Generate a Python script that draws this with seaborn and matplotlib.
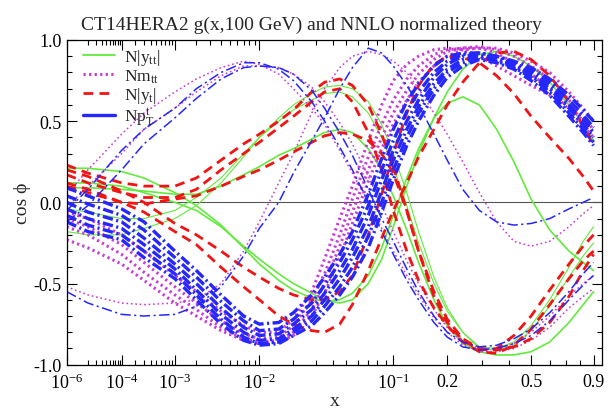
import numpy as np
import matplotlib
matplotlib.use("Agg")
import matplotlib.pyplot as plt
import seaborn as sns

# x grid shared by all correlation curves
x_grid = [1e-6, 1e-5, 1e-4, 3e-4, 1e-3, 2e-3, 4e-3, 7e-3, 1e-2, 0.015, 0.02,
          0.028, 0.035, 0.045, 0.055, 0.07, 0.085, 0.1, 0.12, 0.14, 0.17,
          0.2, 0.24, 0.29, 0.35, 0.42, 0.5, 0.6, 0.72, 0.82, 0.9]

# N|y_tt| bins (green, solid)
green_thick = [
    [0.21, 0.21, 0.19, 0.15, 0.06, -0.02, -0.14, -0.28, -0.38, -0.48, -0.54, -0.59, -0.61, -0.6, -0.56, -0.45, -0.28, -0.08, 0.15, 0.33, 0.52, 0.61, 0.65, 0.6, 0.45, 0.25, 0.02, -0.17, -0.3, -0.37, -0.42],
    [0.12, 0.12, 0.1, 0.06, 0.0, -0.05, -0.15, -0.27, -0.35, -0.44, -0.5, -0.56, -0.6, -0.62, -0.6, -0.5, -0.35, -0.15, 0.1, 0.3, 0.52, 0.68, 0.82, 0.91, 0.93, 0.9, 0.84, 0.74, 0.6, 0.48, 0.38],
    [0.09, 0.09, 0.08, 0.07, 0.05, 0.05, 0.1, 0.17, 0.22, 0.29, 0.33, 0.39, 0.43, 0.45, 0.43, 0.33, 0.2, 0.04, -0.17, -0.37, -0.6, -0.76, -0.87, -0.92, -0.94, -0.94, -0.92, -0.86, -0.74, -0.63, -0.55],
]
green_thin = [
    [-0.04, -0.06, -0.1, -0.1, -0.05, 0.03, 0.15, 0.3, 0.4, 0.5, 0.57, 0.63, 0.67, 0.68, 0.65, 0.55, 0.4, 0.22, -0.02, -0.25, -0.5, -0.67, -0.8, -0.89, -0.9, -0.86, -0.76, -0.6, -0.4, -0.24, -0.15],
    [-0.18, -0.2, -0.2, -0.16, -0.1, -0.02, 0.12, 0.28, 0.4, 0.52, 0.6, 0.67, 0.71, 0.72, 0.7, 0.62, 0.48, 0.3, 0.06, -0.18, -0.46, -0.65, -0.8, -0.9, -0.91, -0.88, -0.79, -0.64, -0.46, -0.33, -0.25],
]

# Nm_tt bins (magenta, dotted)
mag_thick = [
    [-0.06, -0.1, -0.2, -0.3, -0.45, -0.55, -0.67, -0.76, -0.8, -0.8, -0.72, -0.55, -0.35, -0.1, 0.1, 0.38, 0.6, 0.75, 0.85, 0.9, 0.94, 0.95, 0.94, 0.9, 0.84, 0.78, 0.72, 0.66, 0.6, 0.5, 0.42],
    [-0.1, -0.15, -0.26, -0.37, -0.52, -0.62, -0.73, -0.81, -0.84, -0.83, -0.76, -0.6, -0.44, -0.2, 0.02, 0.28, 0.48, 0.63, 0.76, 0.84, 0.91, 0.94, 0.95, 0.95, 0.92, 0.86, 0.79, 0.7, 0.57, 0.47, 0.4],
    [-0.15, -0.2, -0.32, -0.43, -0.57, -0.66, -0.77, -0.84, -0.86, -0.85, -0.8, -0.66, -0.5, -0.27, -0.06, 0.2, 0.4, 0.55, 0.69, 0.79, 0.88, 0.93, 0.95, 0.96, 0.94, 0.9, 0.84, 0.76, 0.63, 0.52, 0.45],
    [-0.23, -0.28, -0.38, -0.48, -0.62, -0.7, -0.79, -0.85, -0.87, -0.86, -0.82, -0.7, -0.56, -0.34, -0.13, 0.13, 0.33, 0.48, 0.63, 0.74, 0.84, 0.9, 0.94, 0.95, 0.95, 0.92, 0.87, 0.8, 0.68, 0.58, 0.5],
]
mag_thin = [
    [0.05, 0.2, 0.42, 0.55, 0.68, 0.76, 0.83, 0.87, 0.85, 0.79, 0.7, 0.58, 0.48, 0.32, 0.18, 0.0, -0.16, -0.3, -0.45, -0.57, -0.71, -0.8, -0.88, -0.92, -0.92, -0.9, -0.85, -0.77, -0.65, -0.58, -0.53],
    [-0.03, 0.1, 0.3, 0.45, 0.58, 0.68, 0.78, 0.84, 0.84, 0.83, 0.79, 0.71, 0.62, 0.49, 0.36, 0.16, -0.02, -0.18, -0.36, -0.5, -0.66, -0.77, -0.86, -0.9, -0.9, -0.87, -0.8, -0.7, -0.58, -0.5, -0.45],
    [-0.52, -0.57, -0.62, -0.63, -0.62, -0.6, -0.5, -0.3, -0.12, 0.12, 0.3, 0.55, 0.7, 0.83, 0.9, 0.93, 0.91, 0.87, 0.8, 0.7, 0.55, 0.42, 0.25, 0.06, -0.12, -0.24, -0.27, -0.24, -0.15, -0.07, -0.02],
]

# N|y_t| bins (red, dashed)
red_bins = [
    [0.23, 0.18, 0.12, 0.1, 0.1, 0.15, 0.26, 0.36, 0.42, 0.5, 0.57, 0.68, 0.74, 0.76, 0.72, 0.6, 0.42, 0.22, -0.05, -0.3, -0.58, -0.74, -0.85, -0.91, -0.9, -0.82, -0.7, -0.54, -0.38, -0.27, -0.2],
    [0.17, 0.12, 0.06, 0.03, 0.03, 0.08, 0.2, 0.3, 0.37, 0.46, 0.53, 0.62, 0.68, 0.7, 0.62, 0.43, 0.2, -0.05, -0.3, -0.48, -0.65, -0.76, -0.86, -0.92, -0.93, -0.88, -0.78, -0.63, -0.47, -0.36, -0.3],
    [0.1, 0.06, 0.0, -0.01, 0.02, 0.04, 0.1, 0.16, 0.2, 0.26, 0.31, 0.37, 0.41, 0.43, 0.42, 0.38, 0.3, 0.18, -0.05, -0.3, -0.55, -0.72, -0.84, -0.9, -0.91, -0.89, -0.84, -0.74, -0.58, -0.42, -0.32],
    [0.2, 0.16, 0.07, 0.0, -0.13, -0.2, -0.3, -0.4, -0.46, -0.53, -0.57, -0.6, -0.6, -0.55, -0.45, -0.2, 0.05, 0.3, 0.55, 0.72, 0.85, 0.9, 0.89, 0.86, 0.78, 0.67, 0.53, 0.4, 0.27, 0.16, 0.07],
    [0.12, 0.08, 0.0, -0.06, -0.18, -0.26, -0.4, -0.52, -0.6, -0.7, -0.75, -0.79, -0.8, -0.75, -0.63, -0.42, -0.22, -0.05, 0.12, 0.28, 0.45, 0.6, 0.74, 0.86, 0.92, 0.93, 0.88, 0.78, 0.62, 0.47, 0.35],
]

# Np_T^t bins (blue, dash-dot)
blue_thick = [
    [0.09, 0.04, -0.04, -0.12, -0.3, -0.42, -0.57, -0.7, -0.75, -0.74, -0.68, -0.57, -0.46, -0.32, -0.18, 0.05, 0.27, 0.45, 0.62, 0.73, 0.84, 0.9, 0.92, 0.92, 0.9, 0.87, 0.83, 0.76, 0.66, 0.57, 0.5],
    [0.04, -0.01, -0.08, -0.17, -0.34, -0.46, -0.61, -0.73, -0.79, -0.78, -0.72, -0.62, -0.51, -0.37, -0.23, -0.02, 0.2, 0.38, 0.56, 0.68, 0.8, 0.87, 0.91, 0.92, 0.9, 0.86, 0.81, 0.74, 0.63, 0.54, 0.46],
    [0.0, -0.06, -0.12, -0.22, -0.38, -0.5, -0.65, -0.77, -0.82, -0.81, -0.75, -0.66, -0.56, -0.42, -0.29, -0.08, 0.14, 0.32, 0.5, 0.63, 0.77, 0.85, 0.9, 0.91, 0.89, 0.85, 0.79, 0.72, 0.6, 0.51, 0.43],
    [-0.04, -0.1, -0.16, -0.26, -0.41, -0.54, -0.69, -0.8, -0.85, -0.84, -0.78, -0.7, -0.6, -0.47, -0.34, -0.15, 0.07, 0.26, 0.45, 0.59, 0.73, 0.82, 0.88, 0.9, 0.88, 0.84, 0.78, 0.7, 0.58, 0.48, 0.4],
    [-0.08, -0.14, -0.2, -0.3, -0.44, -0.57, -0.72, -0.83, -0.87, -0.86, -0.8, -0.73, -0.64, -0.52, -0.4, -0.21, 0.0, 0.2, 0.4, 0.55, 0.7, 0.8, 0.86, 0.89, 0.87, 0.83, 0.77, 0.68, 0.55, 0.45, 0.37],
    [-0.12, -0.18, -0.23, -0.34, -0.47, -0.6, -0.75, -0.85, -0.88, -0.87, -0.82, -0.76, -0.68, -0.57, -0.46, -0.28, -0.06, 0.14, 0.35, 0.5, 0.66, 0.77, 0.84, 0.88, 0.86, 0.82, 0.75, 0.66, 0.53, 0.43, 0.35],
]
blue_thin = [
    [-0.05, 0.08, 0.32, 0.45, 0.58, 0.7, 0.8, 0.86, 0.86, 0.82, 0.75, 0.62, 0.5, 0.34, 0.2, 0.0, -0.18, -0.32, -0.48, -0.6, -0.74, -0.83, -0.89, -0.91, -0.9, -0.87, -0.82, -0.73, -0.6, -0.51, -0.45],
    [-0.12, -0.02, 0.2, 0.36, 0.52, 0.64, 0.76, 0.83, 0.84, 0.83, 0.79, 0.69, 0.58, 0.43, 0.29, 0.08, -0.1, -0.24, -0.41, -0.55, -0.7, -0.8, -0.86, -0.89, -0.88, -0.84, -0.78, -0.68, -0.55, -0.44, -0.37],
    [-0.55, -0.62, -0.69, -0.7, -0.69, -0.64, -0.52, -0.33, -0.16, 0.0, 0.18, 0.38, 0.52, 0.7, 0.83, 0.95, 0.92, 0.84, 0.72, 0.6, 0.42, 0.26, 0.08, -0.05, -0.12, -0.14, -0.13, -0.1, -0.04, 0.0, 0.03],
]

legend_labels = [r"N|y$_{\rm tt}$|", r"Nm$_{\rm tt}$", r"N|y$_{\rm t}$|", r"Np$_{\rm T}^{\rm t}$"]
title = "CT14HERA2 g(x,100 GeV) and NNLO normalized theory"

x_major = [1e-6, 1e-4, 1e-3, 1e-2, 1e-1, 0.2, 0.5, 0.9]
x_major_labels = [r"$10^{-6}$", r"$10^{-4}$", r"$10^{-3}$", r"$10^{-2}$", r"$10^{-1}$", "0.2", "0.5", "0.9"]

sns.set_theme(style="ticks")
plt.rcParams["font.family"] = ["Liberation Serif", "DejaVu Serif"]
plt.rcParams["mathtext.fontset"] = "custom"
plt.rcParams["mathtext.rm"] = "Liberation Serif"
plt.rcParams["mathtext.it"] = "Liberation Serif:italic"
plt.rcParams["lines.scale_dashes"] = False

GREEN = "#62ea3c"
MAGENTA = "#c93bd6"
RED = "#f21414"
BLUE = "#2626ff"

fig = plt.figure(figsize=(6.08, 4.10), dpi=100)
ax = fig.add_axes([0.1097, 0.108, 0.8805, 0.792])

# x axis uses a x^(1/5) mapping
ax.set_xscale("function", functions=(lambda v: np.power(np.clip(v, 0, None), 0.2),
                                     lambda v: np.power(np.clip(v, 0, None), 5.0)))

def draw(values, color, ls, lw):
    sns.lineplot(x=x_grid, y=values, ax=ax, color=color, linestyle=ls, lw=lw,
                 sort=False, estimator=None)

ax.axhline(0.0, color="#555555", lw=0.8, zorder=1)

for g in green_thick:
    draw(g, GREEN, "-", 1.2)
for g in green_thin:
    draw(g, GREEN, "-", 0.8)

dot = (0, (1.6, 2.4))
for m in mag_thick:
    draw(m, MAGENTA, dot, 2.2)
for m in mag_thin:
    draw(m, MAGENTA, (0, (1.2, 2.0)), 1.1)

dash = (0, (7.0, 4.5))
for r in red_bins:
    draw(r, RED, dash, 2.0)

dashdot = (0, (7.5, 2.5, 1.5, 2.5))
for b in blue_thick:
    draw(b, BLUE, dashdot, 2.4)
for b in blue_thin:
    draw(b, BLUE, dashdot, 1.1)

ax.set_xlim(1e-6, 0.97)
ax.set_ylim(-1.0, 1.0)

x_minor = ([k * 1e-5 for k in range(1, 10)] + [k * 1e-4 for k in range(2, 10)] +
           [k * 1e-3 for k in range(2, 10)] + [k * 1e-2 for k in range(2, 10)] +
           [0.3, 0.4, 0.6, 0.7, 0.8])
ax.set_xticks(x_major)
ax.set_xticklabels(x_major_labels)
ax.set_xticks(x_minor, minor=True)
ax.set_xticklabels([], minor=True)
ax.set_yticks([-1.0, -0.5, 0.0, 0.5, 1.0])
ax.set_yticklabels(["-1.0", "-0.5", "0.0", "0.5", "1.0"])
ax.set_yticks(np.arange(-1.0, 1.001, 0.1), minor=True)

ax.tick_params(which="both", direction="in", top=True, right=True, labelsize=13,
               colors="black", width=0.8)
ax.tick_params(which="major", length=7)
ax.tick_params(which="minor", length=3.5)
ax.tick_params(axis="x", pad=6)
for s in ax.spines.values():
    s.set_linewidth(0.9)
    s.set_color("black")

ax.set_xlabel("x", fontsize=14, labelpad=0)
ax.set_ylabel("cos \u03d5", fontsize=14, labelpad=2)
ax.set_title(title, fontsize=14, pad=8, x=0.458)

handles = [
    plt.Line2D([], [], color=GREEN, lw=1.3, ls="-"),
    plt.Line2D([], [], color=MAGENTA, lw=2.2, ls=dot),
    plt.Line2D([], [], color=RED, lw=2.0, ls=dash),
    plt.Line2D([], [], color=BLUE, lw=2.4, ls="-"),
]
ax.legend(handles, legend_labels, loc="upper left", frameon=False, fontsize=12.5,
          handlelength=1.85, handletextpad=0.5, labelspacing=0.02,
          borderpad=0.0, borderaxespad=0.0, bbox_to_anchor=(0.03, 0.978))

fig.savefig("out.png", dpi=100)
